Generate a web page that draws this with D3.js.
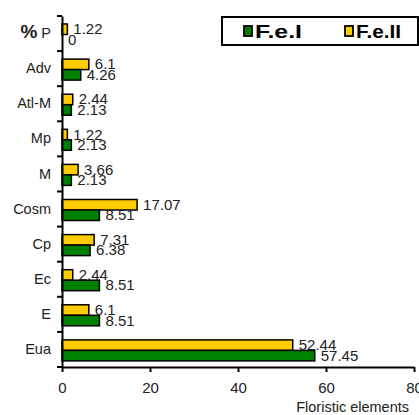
<!doctype html>
<html>
<head>
  <style>
    body { margin:0; background:#fff; font-family: Arial, "Liberation Sans", sans-serif; }
  </style>
  <script src="https://d3js.org/d3.v7.min.js"></script>
</head>
<body>
<script>
  // categories top to bottom
  var categories = ["P", "Adv", "Atl-M", "Mp", "M", "Cosm", "Cp", "Ec", "E", "Eua"];
  var feI  = [0, 4.26, 2.13, 2.13, 2.13, 8.51, 6.38, 8.51, 8.51, 57.45];
  var feII = [1.22, 6.1, 2.44, 1.22, 3.66, 17.07, 7.31, 2.44, 6.1, 52.44];
  var xTicks = [0, 20, 40, 60, 80];
  var seriesNames = ["F.e.I", "F.e.II"];
  var colors = ["#008000", "#ffcc00"];

  var svg = d3.select("body").append("svg")
    .attr("width", 419).attr("height", 415);

  var x = d3.scaleLinear().domain([0, 80]).range([62, 414]);
  var y = d3.scaleBand().domain(categories).range([16, 367]);
  var bh = 10.5;

  // bars: F.e.II on top, F.e.I below
  var rows = categories.map(function(c, i) { return {cat: c, a: feI[i], b: feII[i]}; });
  var g = svg.append("g");
  g.selectAll("rect.b").data(rows).enter().append("rect")
    .attr("x", x(0)).attr("y", function(d) { return y(d.cat) + 8; })
    .attr("width", function(d) { return x(d.b) - x(0); })
    .attr("height", bh)
    .attr("fill", colors[1]).attr("stroke", "#000").attr("stroke-width", 1.5);
  g.selectAll("rect.a").data(rows).enter().append("rect")
    .attr("x", x(0)).attr("y", function(d) { return y(d.cat) + 8 + bh; })
    .attr("width", function(d) { return x(d.a) - x(0); })
    .attr("height", bh)
    .attr("fill", colors[0]).attr("stroke", "#000").attr("stroke-width", 1.5);

  // value labels
  g.selectAll("text.b").data(rows).enter().append("text")
    .attr("x", function(d) { return x(d.b) + 6; })
    .attr("y", function(d) { return y(d.cat) + 8 + bh / 2 + 5; })
    .attr("font-size", 15).attr("fill", "#222")
    .text(function(d) { return d.b; });
  g.selectAll("text.a").data(rows).enter().append("text")
    .attr("x", function(d) { return x(d.a) + 6; })
    .attr("y", function(d) { return y(d.cat) + 8 + bh * 1.5 + 5; })
    .attr("font-size", 15).attr("fill", "#222")
    .text(function(d) { return d.a; });

  // y axis
  var yAxis = svg.append("g").attr("transform", "translate(62,0)")
    .call(d3.axisLeft(y).tickSize(0).tickPadding(11));
  yAxis.select(".domain").attr("stroke", "#000").attr("stroke-width", 2);
  yAxis.selectAll("text").attr("font-size", 14.5).attr("font-family", "Arial, sans-serif").attr("fill", "#222");
  yAxis.selectAll(".tick").filter(function(d) { return d === "P"; }).select("text")
    .text(null)
    .call(function(t) {
      t.append("tspan").attr("font-weight", "bold").attr("font-size", 19).text("%");
      t.append("tspan").text(" P");
    });
  var bounds = categories.map(function(c) { return y(c); }).concat([y.range()[1]]);
  svg.append("g").selectAll("line").data(bounds).enter().append("line")
    .attr("x1", 57).attr("x2", 62)
    .attr("y1", function(d) { return d; }).attr("y2", function(d) { return d; })
    .attr("stroke", "#000").attr("stroke-width", 2);

  // x axis
  var xAxis = svg.append("g").attr("transform", "translate(0,367)")
    .call(d3.axisBottom(x).tickValues(xTicks).tickSize(5).tickSizeOuter(0).tickPadding(10));
  xAxis.select(".domain").attr("stroke", "#000").attr("stroke-width", 2);
  xAxis.selectAll("line").attr("stroke", "#000").attr("stroke-width", 2);
  xAxis.selectAll("text").attr("font-size", 15).attr("font-family", "Arial, sans-serif").attr("fill", "#222");

  svg.append("text").attr("x", 409).attr("y", 412).attr("text-anchor", "end")
    .attr("font-size", 14.5).attr("fill", "#222").text("Floristic elements");

  // legend
  svg.append("rect").attr("x", 222).attr("y", 17).attr("width", 196).attr("height", 28)
    .attr("fill", "#fff").attr("stroke", "#000").attr("stroke-width", 2);
  var lx = [244, 345];
  var lw = [47, 45];
  seriesNames.forEach(function(n, i) {
    svg.append("rect").attr("x", lx[i]).attr("y", 26).attr("width", 8).attr("height", 10)
      .attr("fill", colors[i]).attr("stroke", "#000").attr("stroke-width", 1.8);
    svg.append("text").attr("x", lx[i] + 11).attr("y", 37.5)
      .attr("font-size", 18.5).attr("font-weight", "bold").attr("fill", "#000")
      .attr("textLength", lw[i]).attr("lengthAdjust", "spacingAndGlyphs").text(n);
  });
</script>
</body>
</html>
